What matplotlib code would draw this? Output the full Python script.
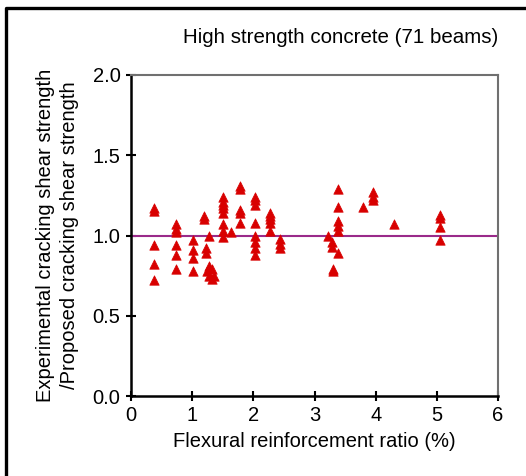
import numpy as np
import matplotlib.pyplot as plt
from matplotlib.lines import Line2D

plt.rcParams['font.family'] = ['Liberation Sans', 'DejaVu Sans']

# flexural reinforcement ratio (%) and strength ratio
ratio = [0.37, 0.37, 0.37, 0.37, 0.37,
         0.74, 0.74, 0.74, 0.74, 0.74, 0.74,
         1.01, 1.01, 1.01, 1.01,
         1.20, 1.20, 1.23, 1.23, 1.28,
         1.28, 1.25, 1.33, 1.28, 1.35, 1.33,
         1.51, 1.51, 1.51, 1.51, 1.51, 1.51, 1.51, 1.51,
         1.64,
         1.79, 1.79, 1.79, 1.79, 1.79,
         2.02, 2.02, 2.02, 2.02, 2.02, 2.02, 2.02, 2.02,
         2.27, 2.27, 2.27, 2.27, 2.27,
         2.44, 2.44, 2.44,
         3.22, 3.28, 3.28, 3.30, 3.30,
         3.39, 3.39, 3.39, 3.39, 3.39, 3.39,
         3.80, 3.95, 3.95, 3.95,
         4.30,
         5.05, 5.05, 5.05, 5.05]
strength = [1.17, 1.15, 0.94, 0.82, 0.72,
            1.07, 1.04, 1.02, 0.94, 0.88, 0.79,
            0.97, 0.91, 0.86, 0.78,
            1.12, 1.10, 0.92, 0.89, 1.00,
            0.81, 0.78, 0.79, 0.75, 0.75, 0.73,
            1.24, 1.21, 1.19, 1.17, 1.14, 1.07, 1.03, 0.99,
            1.02,
            1.31, 1.29, 1.16, 1.14, 1.08,
            1.24, 1.22, 1.19, 1.08, 1.00, 0.96, 0.92, 0.88,
            1.14, 1.12, 1.10, 1.08, 1.03,
            0.98, 0.95, 0.92,
            1.00, 0.96, 0.93, 0.79, 0.78,
            1.29, 1.18, 1.09, 1.06, 1.03, 0.89,
            1.18, 1.27, 1.24, 1.22,
            1.07,
            1.13, 1.11, 1.05, 0.97]

fig = plt.figure(figsize=(5.26, 4.76), dpi=100)
ax = fig.add_axes([131/526, 1 - 396/476, 367/526, 321/476])

ax.axhline(1.0, color='#9a2a8a', lw=1.5, zorder=2)
ax.scatter(ratio, strength, marker='^', s=46, color='#d80000',
           edgecolors='#d80000', linewidths=0.5, zorder=3)

ax.set_xlim(0, 6)
ax.set_ylim(0, 2.0)
ax.set_xticks(range(0, 7))
ax.set_yticks(np.arange(0, 2.01, 0.5))
ax.set_yticklabels(['0.0', '0.5', '1.0', '1.5', '2.0'])
ax.tick_params(direction='inout', length=7, width=1.5, labelsize=14.5, pad=4)

ax.spines['left'].set_linewidth(1.8)
ax.spines['bottom'].set_linewidth(1.8)
ax.spines['top'].set_color('#707070')
ax.spines['right'].set_color('#707070')
ax.spines['top'].set_linewidth(1.5)
ax.spines['right'].set_linewidth(1.5)

ax.set_xlabel('Flexural reinforcement ratio (%)', fontsize=14.5, labelpad=5)
ax.set_ylabel('Experimental cracking shear strength\n/Proposed cracking shear strength',
              fontsize=14.5, labelpad=10, linespacing=1.3)

fig.text(498/526, 1 - 38/476, 'High strength concrete (71 beams)',
         ha='right', va='center', fontsize=14.8)

# outer frame (left and top edges visible)
fig.add_artist(Line2D([6/526, 6/526, 1.0], [0.0, 1 - 8/476, 1 - 8/476],
                      transform=fig.transFigure, color='black', lw=2.4))

fig.savefig('out.png', dpi=100)
